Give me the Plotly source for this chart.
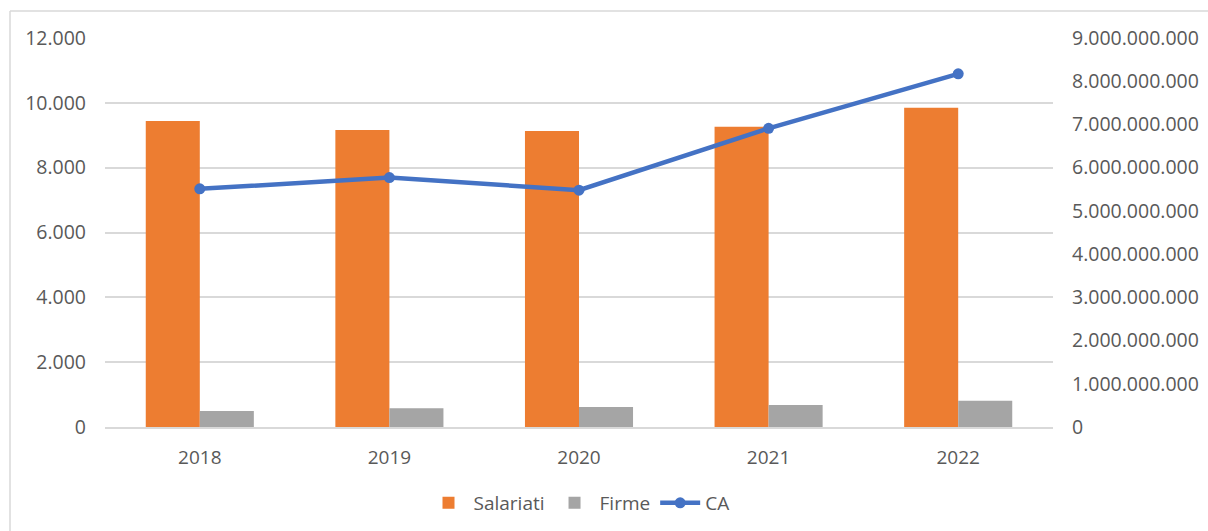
import plotly.graph_objects as go

years = ["2018", "2019", "2020", "2021", "2022"]
salariati = [9440, 9160, 9130, 9260, 9850]
firme = [494, 577, 620, 680, 810]
ca = [5.51e9, 5.77e9, 5.48e9, 6.91e9, 8.17e9]

font_fam = "Open Sans, Noto Sans, sans-serif"
txt_col = "#595959"

fig = go.Figure()
fig.add_trace(go.Bar(x=years, y=salariati, name="Salariati", marker=dict(color="#ED7D31", line_width=0)))
fig.add_trace(go.Bar(x=years, y=firme, name="Firme", marker=dict(color="#A5A5A5", line_width=0)))
fig.add_trace(go.Scatter(x=years, y=ca, name="CA", yaxis="y2", mode="lines+markers",
                         line=dict(color="#4472C4", width=4.5),
                         marker=dict(color="#4472C4", size=11)))

W, H = 1208, 531
L, R, T, B = 105, 1053, 38, 427
pw, ph = R - L, B - T

def px(x):
    return (x - L) / pw

def py(y):
    return (B - y) / ph

fig.update_layout(
    width=W, height=H,
    margin=dict(l=L, r=W - R, t=T, b=H - B, autoexpand=False),
    paper_bgcolor="white", plot_bgcolor="white",
    separators=",.",
    barmode="group", bargap=0.43, bargroupgap=0,
    font=dict(family=font_fam, size=19, color=txt_col),
    xaxis=dict(showgrid=False, showline=True, linecolor="#D9D9D9", linewidth=1.5,
               ticks="", tickfont=dict(size=19, color=txt_col), ticklabelstandoff=12),
    yaxis=dict(range=[0, 12000], dtick=2000, tickformat=",d", showgrid=True,
               gridcolor="#D9D9D9", gridwidth=1.5, zeroline=False, showline=False,
               ticks="", tickfont=dict(size=19.5, color=txt_col), ticklabelstandoff=18),
    yaxis2=dict(range=[0, 9e9], dtick=1e9, tickformat=",d", overlaying="y", side="right",
                showgrid=False, zeroline=False, showline=False, ticks="",
                tickfont=dict(size=19.5, color=txt_col), ticklabelstandoff=18),
    legend=dict(orientation="h", x=0.5, xanchor="center", y=py(503), yanchor="middle",
                font=dict(size=19, color=txt_col), traceorder="normal",
                itemwidth=40, bgcolor="rgba(0,0,0,0)"),
    shapes=[
        dict(type="line", xref="paper", yref="paper", x0=px(10), x1=px(1215), y0=py(11), y1=py(11),
             line=dict(color="#D9D9D9", width=1.5)),
        dict(type="line", xref="paper", yref="paper", x0=px(10), x1=px(10), y0=py(11), y1=py(540),
             line=dict(color="#D9D9D9", width=1.5)),
    ],
)

fig.write_html("out.html", config={"displayModeBar": False},
               post_script="document.body.style.margin='0';document.body.style.overflow='hidden';")
